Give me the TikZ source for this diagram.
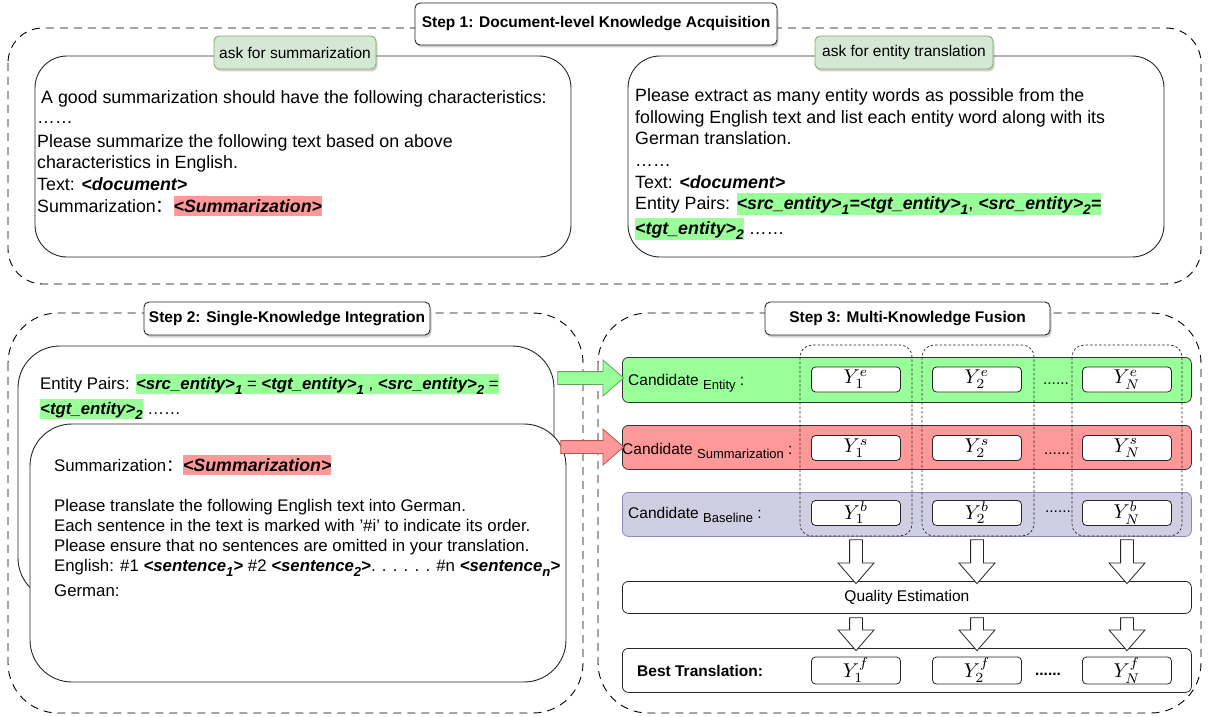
\documentclass[tikz,border=0pt]{standalone}
\usepackage{fontspec}
\setmainfont{Liberation Sans}
\newfontfamily\cjkfont{Noto Sans CJK SC}
\usetikzlibrary{shapes.arrows,shadows}
\definecolor{hlgreen}{HTML}{99FF99}
\definecolor{hlred}{HTML}{FF9999}
\definecolor{lblfill}{HTML}{D5E8D4}
\definecolor{lbldraw}{HTML}{82B366}
\definecolor{purfill}{HTML}{D0CEE2}
\definecolor{purdraw}{HTML}{8C88B5}
\definecolor{arrred}{HTML}{B85450}
\definecolor{arrgreen}{HTML}{5FA35F}
\newcommand{\hlbox}[2]{{\setlength{\fboxsep}{0pt}\colorbox{#1}{\rule[-0.2em]{0pt}{1.1em}#2}}}
\newcommand{\bfit}[1]{\textbf{\textit{#1}}}
\newcommand{\lsub}[1]{\raisebox{-0.32em}{\scalebox{0.78}{#1}}}
\newcommand{\fwcolon}{{\cjkfont ：}}
\newcommand{\lowsub}[1]{\raisebox{-4pt}{\fontsize{13}{13}\selectfont #1}}
\newcommand{\ymath}[1]{\scalebox{2}{$#1$}}
\begin{document}
\begin{tikzpicture}[x=1pt,y=-1pt,
  outerdash/.style={draw=black, line width=0.9pt, dash pattern=on 8pt off 6pt, rounded corners=#1},
  stepbox/.style={draw=black!85, fill=white, line width=0.9pt, rounded corners=5pt, font=\fontsize{15.5}{18}\selectfont\bfseries, inner sep=0pt, drop shadow={shadow xshift=1.5pt, shadow yshift=-2.5pt, opacity=0.3, fill=black!60}},
  asklabel/.style={draw=lbldraw, fill=lblfill, line width=0.9pt, rounded corners=5pt, font=\fontsize{15.5}{18}\selectfont, inner sep=0pt, minimum height=33pt, drop shadow={shadow xshift=1.5pt, shadow yshift=-2.5pt, opacity=0.3, fill=black!60}},
  prompt/.style={draw=black!85, fill=white, line width=0.9pt, rounded corners=#1},
  tA/.style={anchor=base west, inner sep=0pt, font=\fontsize{17.8}{21}\selectfont},
  tB/.style={anchor=base west, inner sep=0pt, font=\fontsize{16.8}{20}\selectfont},
  row/.style={draw=black!80, line width=0.8pt, rounded corners=6pt, anchor=north west, minimum width=569pt, inner sep=0pt},
  cand/.style={anchor=base west, inner sep=0pt, font=\fontsize{15.5}{18}\selectfont},
  ybox/.style={draw=black!85, fill=white, line width=0.8pt, rounded corners=4pt, minimum width=89pt, minimum height=25pt, inner sep=0pt, font=\fontsize{10}{10}\selectfont},
  colgroup/.style={draw=black!85, line width=0.7pt, dash pattern=on 2.5pt off 2pt, rounded corners=12pt},
  dotsnode/.style={inner sep=0pt, font=\fontsize{15.5}{18}\selectfont},
  downarrow/.style={single arrow, draw=black!85, fill=white, line width=0.8pt, inner sep=0pt, inner ysep=6pt, single arrow head extend=11.5pt, single arrow tip angle=82, rotate=-90, minimum height=#1},
  sidearrow/.style={single arrow, line width=0.8pt, inner sep=0pt, inner ysep=6pt, single arrow head extend=11.5pt, single arrow tip angle=82, minimum height=#1}
]
\useasboundingbox (0,0) rectangle (1208,717);

% ---------------- Step 1 ----------------
\draw[outerdash=35pt] (8,28) rectangle (1201,284);
\node[stepbox, minimum width=362pt, minimum height=42pt] (s1) at (596,24) {Step 1: Document-level Knowledge Acquisition};

\draw[prompt=32pt] (35,56) rectangle (571,257);
\draw[prompt=32pt] (628,56) rectangle (1164,257);
\node[asklabel, minimum width=162pt] (askS) at (295,52.5) {ask for summarization};
\node[asklabel, minimum width=178pt] (askE) at (904,52.5) {ask for entity translation};

\node[tA] (l1) at (41,103) {A good summarization should have the following characteristics:};
\node[tA] (l2) at (37,124) {……};
\node[tA] (l3) at (37,147) {Please summarize the following text based on above};
\node[tA] (l4) at (37,168) {characteristics in English.};
\node[tA] (l5) at (37,190) {Text: \bfit{<document>}};
\node[tA] (l6) at (37,212) {Summarization\fwcolon\hlbox{hlred}{\bfit{<Summarization>}}};

\node[tA] (r1) at (635,102) {Please extract as many entity words as possible from the};
\node[tA] (r2) at (635,123) {following English text and list each entity word along with its};
\node[tA] (r3) at (635,144) {German translation.};
\node[tA] (r4) at (635,166) {……};
\node[tA] (r5) at (635,188) {Text: \bfit{<document>}};
\node[tA] (r6) at (635,209) {Entity Pairs: \hlbox{hlgreen}{\bfit{<src\_entity>\lsub{1}=<tgt\_entity>\lsub{1}}, \bfit{<src\_entity>\lsub{2}=}}};
\node[tA] (r7) at (635,234) {\hlbox{hlgreen}{\bfit{<tgt\_entity>\lsub{2}}} ……};

% ---------------- Step 2 ----------------
\draw[outerdash=50pt] (8,313) rectangle (583,713);
\node[stepbox, minimum width=286pt, minimum height=33pt] (s2) at (287,318.5) {Step 2: Single-Knowledge Integration};

\draw[prompt=42pt] (18,346) rectangle (554,600);
\node[tB] (a1) at (40,389) {Entity Pairs: \hlbox{hlgreen}{\bfit{<src\_entity>\lsub{1}} = \bfit{<tgt\_entity>\lsub{1}} , \bfit{<src\_entity>\lsub{2}} =}};
\node[tB] (a2) at (40,414) {\hlbox{hlgreen}{\bfit{<tgt\_entity>\lsub{2}}} ……};

\draw[prompt=42pt] (30,424) rectangle (566,682);
\node[tB] (b1) at (54,471) {Summarization\fwcolon{\fontsize{17.8}{21}\selectfont\hlbox{hlred}{\bfit{<Summarization>}}}};
\node[tB] (b2) at (54,511) {Please translate the following English text into German.};
\node[tB] (b3) at (54,531) {Each sentence in the text is marked with ’\#i’ to indicate its order.};
\node[tB] (b4) at (54,551) {Please ensure that no sentences are omitted in your translation.};
\node[tB] (b5) at (54,571) {English: \#1 \bfit{<sentence\lsub{1}>} \#2 \bfit{<sentence\lsub{2}>}. . . . . . \#n \bfit{<sentence\lsub{n}>}};
\node[tB] (b6) at (54,596) {German:};

% ---------------- Step 3 ----------------
\draw[outerdash=50pt] (598,313) rectangle (1201,713);
\node[stepbox, minimum width=285pt, minimum height=33pt] (s3) at (907.5,318.5) {Step 3: Multi-Knowledge Fusion};

\node[row, fill=hlgreen, minimum height=45pt] (rowE) at (622,357) {};
\node[row, fill=hlred, minimum height=44pt] (rowS) at (622,425) {};
\node[row, fill=purfill, draw=purdraw, minimum height=44pt] (rowB) at (622,492) {};

\node[cand] (cE) at (628,385) {Candidate \lowsub{Entity} :};
\node[cand] (cS) at (622,454) {Candidate \lowsub{Summarization} :};
\node[cand] (cB) at (628,518) {Candidate \lowsub{Baseline} :};

\draw[colgroup] (800,345) rectangle (912,536);
\draw[colgroup] (922,345) rectangle (1034,536);
\draw[colgroup] (1072,345) rectangle (1182,536);

\node[ybox] (ye1) at (856,379.5) {\ymath{Y_1^e}};
\node[ybox] (ye2) at (977,379.5) {\ymath{Y_2^e}};
\node[ybox] (ye3) at (1127,379.5) {\ymath{Y_N^e}};
\node[ybox] (ys1) at (856,448) {\ymath{Y_1^s}};
\node[ybox] (ys2) at (977,448) {\ymath{Y_2^s}};
\node[ybox] (ys3) at (1127,448) {\ymath{Y_N^s}};
\node[ybox] (yb1) at (856,513) {\ymath{Y_1^b}};
\node[ybox] (yb2) at (977,513) {\ymath{Y_2^b}};
\node[ybox] (yb3) at (1127,513) {\ymath{Y_N^b}};

\node[dotsnode] (dE) at (1056,384) {......};
\node[dotsnode] (dS) at (1057,454) {......};
\node[dotsnode] (dB) at (1058,512) {......};

\node[draw=black!85, line width=0.8pt, rounded corners=6pt, anchor=north west, minimum width=569pt, minimum height=32pt, inner sep=0pt, font=\fontsize{15.5}{18}\selectfont] (qe) at (622,581) {Quality Estimation};
\node[draw=black!85, line width=0.8pt, rounded corners=6pt, anchor=north west, minimum width=569pt, minimum height=44pt, inner sep=0pt] (best) at (622,648) {};
\node[cand, font=\fontsize{15.5}{18}\selectfont\bfseries] (bt) at (637,676) {Best Translation:};
\node[ybox, minimum height=27pt] (yf1) at (856,670.5) {\ymath{Y_1^f}};
\node[ybox, minimum height=27pt] (yf2) at (977,670.5) {\ymath{Y_2^f}};
\node[ybox, minimum height=27pt] (yf3) at (1127,670.5) {\ymath{Y_N^f}};
\node[dotsnode, font=\fontsize{15.5}{18}\selectfont\bfseries] (dF) at (1048,674) {......};

\node[downarrow=44pt] (da1) at (856,558) {};
\node[downarrow=44pt] (da2) at (977,558) {};
\node[downarrow=44pt] (da3) at (1127,558) {};
\node[downarrow=33pt] (db1) at (856,630.5) {};
\node[downarrow=33pt] (db2) at (977,630.5) {};
\node[downarrow=33pt] (db3) at (1127,630.5) {};

% side arrows
\node[sidearrow=66pt, fill=hlgreen, draw=arrgreen] (ga) at (587,378) {};
\node[sidearrow=63pt, fill=hlred, draw=arrred] (ra) at (588.5,447) {};
\end{tikzpicture}
\end{document}
